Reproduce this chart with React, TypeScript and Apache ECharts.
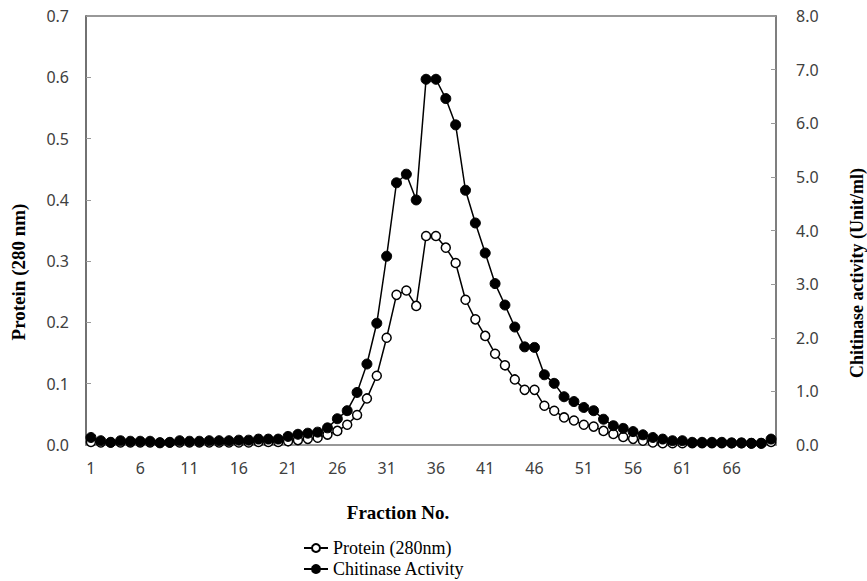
import React, { useEffect, useRef } from "react";
import * as echarts from "echarts";

const fractions: string[] = Array.from({ length: 70 }, (_, i) => String(i + 1));

const protein: number[] = [
  0.005, 0.004, 0.004, 0.004, 0.004, 0.004, 0.004, 0.004, 0.004, 0.004,
  0.004, 0.004, 0.004, 0.004, 0.004, 0.004, 0.004, 0.005, 0.005, 0.005,
  0.006, 0.008, 0.010, 0.012, 0.017, 0.023, 0.033, 0.049, 0.076, 0.113,
  0.175, 0.245, 0.252, 0.227, 0.341, 0.341, 0.322, 0.297, 0.237, 0.205,
  0.178, 0.149, 0.130, 0.107, 0.090, 0.090, 0.064, 0.056, 0.045, 0.040,
  0.033, 0.030, 0.023, 0.018, 0.013, 0.010, 0.007, 0.004, 0.003, 0.003,
  0.003, 0.003, 0.003, 0.003, 0.003, 0.003, 0.003, 0.003, 0.003, 0.005,
];

const chitinase: number[] = [
  0.14, 0.08, 0.05, 0.08, 0.07, 0.07, 0.07, 0.04, 0.05, 0.08,
  0.07, 0.07, 0.08, 0.08, 0.08, 0.09, 0.09, 0.11, 0.11, 0.11,
  0.16, 0.20, 0.22, 0.24, 0.32, 0.49, 0.64, 0.98, 1.51, 2.27,
  3.52, 4.89, 5.05, 4.57, 6.82, 6.82, 6.46, 5.97, 4.75, 4.14,
  3.58, 3.01, 2.61, 2.20, 1.83, 1.82, 1.31, 1.15, 0.90, 0.81,
  0.70, 0.64, 0.48, 0.36, 0.31, 0.25, 0.19, 0.14, 0.11, 0.08,
  0.08, 0.05, 0.05, 0.05, 0.05, 0.04, 0.04, 0.03, 0.03, 0.11,
];

const seriesNames = ["Protein (280nm)", "Chitinase Activity"];
const leftTitle = "Protein (280 nm)";
const rightTitle = "Chitinase activity (Unit/ml)";
const xTitle = "Fraction No.";

const tickFont = "'Noto Sans', 'DejaVu Sans', sans-serif";
const serifFont = "'Liberation Serif', 'DejaVu Serif', serif";

export default function App() {
  const ref = useRef<HTMLDivElement>(null);

  useEffect(() => {
    document.body.style.margin = "0";
    if (!ref.current) return;
    const chart = echarts.init(ref.current, null, { renderer: "svg" });
    chart.setOption({
      animation: false,
      backgroundColor: "#ffffff",
      grid: {
        left: 86,
        right: 91,
        top: 16,
        bottom: 136,
        show: true,
        borderColor: "#777",
        borderWidth: 1.5,
        backgroundColor: "transparent",
      },
      legend: {
        orient: "vertical",
        left: 303,
        top: 539,
        height: 60,
        padding: 0,
        itemWidth: 24,
        itemHeight: 10,
        itemGap: 3,
        data: seriesNames,
        textStyle: { fontFamily: serifFont, fontSize: 18, color: "#000" },
      },
      xAxis: {
        type: "category",
        data: fractions,
        boundaryGap: true,
        axisLine: { lineStyle: { color: "#999", width: 1.5 } },
        axisTick: {
          inside: true,
          interval: 0,
          length: 4,
          lineStyle: { color: "#bbb" },
        },
        axisLabel: {
          interval: 4,
          margin: 15,
          fontFamily: tickFont,
          fontSize: 16,
          color: "#404040",
        },
        splitLine: { show: false },
      },
      yAxis: [
        {
          type: "value",
          min: 0,
          max: 0.7,
          interval: 0.1,
          position: "left",
          axisLine: { show: true, lineStyle: { color: "#666", width: 1.5 } },
          axisTick: { show: true, inside: true, length: 5, lineStyle: { color: "#999" } },
          axisLabel: {
            margin: 17,
            fontFamily: tickFont,
            fontSize: 16,
            color: "#404040",
            formatter: (v: number) => v.toFixed(1),
          },
          splitLine: { show: false },
        },
        {
          type: "value",
          min: 0,
          max: 8,
          interval: 1,
          position: "right",
          axisLine: { show: true, lineStyle: { color: "#777", width: 1.5 } },
          axisTick: { show: true, inside: true, length: 5, lineStyle: { color: "#999" } },
          axisLabel: {
            margin: 20,
            fontFamily: tickFont,
            fontSize: 16,
            color: "#404040",
            formatter: (v: number) => v.toFixed(1),
          },
          splitLine: { show: false },
        },
      ],
      series: [
        {
          name: seriesNames[0],
          type: "line",
          yAxisIndex: 0,
          data: protein,
          symbol: "circle",
          symbolSize: 9,
          showAllSymbol: true,
          lineStyle: { color: "#000", width: 1.5 },
          itemStyle: { color: "#fff", borderColor: "#000", borderWidth: 1.5 },
        },
        {
          name: seriesNames[1],
          type: "line",
          yAxisIndex: 1,
          data: chitinase,
          symbol: "circle",
          symbolSize: 10,
          showAllSymbol: true,
          lineStyle: { color: "#000", width: 1.5 },
          itemStyle: { color: "#000", borderColor: "#000", borderWidth: 1 },
        },
      ],
      graphic: [
        {
          type: "text",
          x: 18,
          y: 272,
          rotation: Math.PI / 2,
          style: {
            text: leftTitle,
            fontFamily: serifFont,
            fontWeight: "bold",
            fontSize: 19,
            fill: "#000",
            align: "center",
            verticalAlign: "middle",
          },
        },
        {
          type: "text",
          x: 857,
          y: 273,
          rotation: Math.PI / 2,
          style: {
            text: rightTitle,
            fontFamily: serifFont,
            fontWeight: "bold",
            fontSize: 18,
            fill: "#000",
            align: "center",
            verticalAlign: "middle",
          },
        },
        {
          type: "text",
          x: 398,
          y: 512,
          style: {
            text: xTitle,
            fontFamily: serifFont,
            fontWeight: "bold",
            fontSize: 19,
            fill: "#000",
            align: "center",
            verticalAlign: "middle",
          },
        },
      ],
    });
    return () => chart.dispose();
  }, []);

  return <div ref={ref} style={{ width: 867, height: 581 }} />;
}
